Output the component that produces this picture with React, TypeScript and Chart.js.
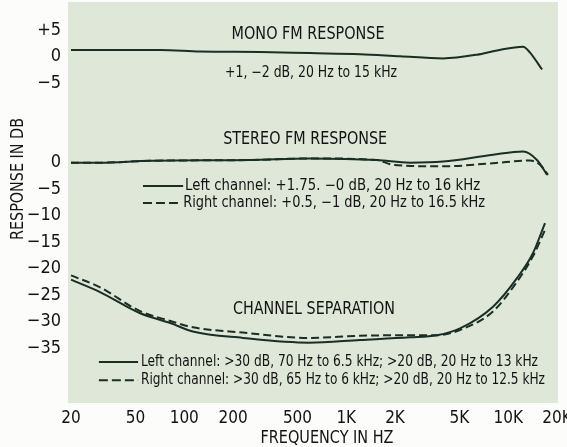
import React, { useEffect, useRef } from "react";
import { Chart, registerables } from "chart.js";

Chart.register(...registerables);

// ---------- data (frequency in Hz, level in dB) ----------
const MONO_FREQ = [20, 71, 125, 293, 598, 1216, 2146, 3957, 6418, 8525, 12340, 13620, 16170];
const MONO_DB = [1.3, 1.3, 1.0, 0.9, 0.7, 0.5, 0.1, -0.3, 0.4, 1.2, 1.9, 0.8, -2.4];

const STEREO_L_FREQ = [20, 30, 62, 254, 598, 1546, 2474, 3957, 8047, 12340, 15040, 17360];
const STEREO_L_DB = [0, 0, 0.35, 0.5, 0.8, 0.5, 0, 0.2, 1.5, 2.1, 0.5, -2.3];

const STEREO_R_FREQ = [20, 30, 62, 254, 598, 1546, 1943, 3957, 8047, 13620, 15710, 17590];
const STEREO_R_DB = [0, 0, 0.35, 0.5, 0.8, 0.5, -0.4, -0.7, -0.1, 0.4, -0.4, -2.3];

const SEP_L_FREQ = [20, 30, 53, 82, 113, 230, 590, 1216, 2474, 3633, 5039, 8047, 11320, 14200, 16860];
const SEP_L_DB = [-22.1, -24.4, -28.4, -30.3, -31.9, -33.1, -34.0, -33.5, -33.0, -32.6, -31.3, -27.2, -21.8, -17.1, -11.4];

const SEP_R_FREQ = [20, 30, 53, 82, 113, 230, 590, 1216, 2474, 3633, 5039, 8047, 11320, 14200, 16860];
const SEP_R_DB = [-21.3, -23.5, -28.0, -29.9, -31.1, -32.1, -33.1, -32.7, -32.6, -32.6, -31.6, -28.1, -22.5, -17.7, -12.7];

// mono section sits 20 dB above the stereo section on the shared axis
const MONO_OFFSET = 20;

const X_TICKS = [20, 50, 100, 200, 500, 1000, 2000, 5000, 10000, 20000];
const X_TICK_LABELS = ["20", "50", "100", "200", "500", "1K", "2K", "5K", "10K", "20K"];

const Y_TICKS = [25, 20, 15, 0, -5, -10, -15, -20, -25, -30, -35];
const Y_TICK_LABELS = ["+5", "0", "\u22125", "0", "\u22125", "\u221210", "\u221215", "\u221220", "\u221225", "\u221230", "\u221235"];

const X_TITLE = "FREQUENCY IN HZ";
const Y_TITLE = "RESPONSE IN DB";

// ---------- styling / layout ----------
const FONT = "'DejaVu Sans Condensed', 'Liberation Sans Narrow', 'DejaVu Sans', sans-serif";
const INK = "#131313";
const CURVE = "#1a2e24";
const PLOT_BG = "#dee7d8";
const PAGE_BG = "#fcfdfa";
const X_MIN = 19.16;
const X_MAX = 20280;
const Y_MIN = -45.4;
const Y_MAX = 30.35;

type Note = {
  text: string;
  fx: number;
  fy: number;
  size: number;
  width: number;
  align: CanvasTextAlign;
  sample?: "solid" | "dashed";
  sx0?: number;
  sx1?: number;
};

const NOTES: Note[] = [
  { text: "MONO FM RESPONSE", fx: 0.49, fy: 0.08, size: 17, width: 153, align: "center" },
  { text: "+1, \u22122 dB, 20 Hz to 15 kHz", fx: 0.496, fy: 0.177, size: 15, width: 172, align: "center" },
  { text: "STEREO FM RESPONSE", fx: 0.484, fy: 0.344, size: 17, width: 164, align: "center" },
  { text: "Left channel: +1.75. \u22120 dB, 20 Hz to 16 kHz", fx: 0.239, fy: 0.459, size: 15, width: 295, align: "left", sample: "solid", sx0: 0.153, sx1: 0.235 },
  { text: "Right channel: +0.5, \u22121 dB, 20 Hz to 16.5 kHz", fx: 0.235, fy: 0.501, size: 15, width: 302, align: "left", sample: "dashed", sx0: 0.153, sx1: 0.231 },
  { text: "CHANNEL SEPARATION", fx: 0.502, fy: 0.768, size: 17, width: 162, align: "center" },
  { text: "Left channel: >30 dB, 70 Hz to 6.5 kHz; >20 dB, 20 Hz to 13 kHz", fx: 0.149, fy: 0.898, size: 15, width: 397, align: "left", sample: "solid", sx0: 0.063, sx1: 0.143 },
  { text: "Right channel: >30 dB, 65 Hz to 6 kHz; >20 dB, 20 Hz to 12.5 kHz", fx: 0.149, fy: 0.943, size: 15, width: 404, align: "left", sample: "dashed", sx0: 0.063, sx1: 0.143 },
];

const zip = (xs: number[], ys: number[], off = 0) => xs.map((x, i) => ({ x, y: ys[i] + off }));

const decorPlugin = {
  id: "decor",
  beforeDraw(chart: any) {
    const { ctx, chartArea: a, width, height } = chart;
    ctx.save();
    ctx.fillStyle = PAGE_BG;
    ctx.fillRect(0, 0, width, height);
    ctx.fillStyle = PLOT_BG;
    ctx.fillRect(a.left, a.top, a.right - a.left, a.bottom - a.top);
    ctx.restore();
  },
  afterDraw(chart: any) {
    const { ctx, chartArea: a } = chart;
    const w = a.right - a.left;
    const h = a.bottom - a.top;
    ctx.save();
    ctx.fillStyle = INK;
    ctx.textBaseline = "middle";
    for (const n of NOTES) {
      const x = a.left + n.fx * w;
      const y = a.top + n.fy * h;
      ctx.font = `${n.size}px ${FONT}`;
      ctx.textAlign = n.align;
      ctx.fillText(n.text, x, y, n.width);
      if (n.sample) {
        ctx.strokeStyle = CURVE;
        ctx.lineWidth = 2;
        ctx.setLineDash(n.sample === "dashed" ? [9, 4] : []);
        ctx.beginPath();
        ctx.moveTo(a.left + (n.sx0 as number) * w, y);
        ctx.lineTo(a.left + (n.sx1 as number) * w, y);
        ctx.stroke();
        ctx.setLineDash([]);
      }
    }
    // axis titles
    ctx.font = `18px ${FONT}`;
    ctx.textAlign = "center";
    ctx.fillText(X_TITLE, 327, 438, 133);
    ctx.translate(18, 179);
    ctx.rotate(-Math.PI / 2);
    ctx.fillText(Y_TITLE, 0, 0, 122);
    ctx.restore();
  },
};

export default function App() {
  const ref = useRef<HTMLCanvasElement | null>(null);

  useEffect(() => {
    if (!ref.current) return;
    const line = (data: any[], dashed: boolean) => ({
      data,
      borderColor: CURVE,
      borderWidth: 2,
      borderDash: dashed ? [8, 4] : [],
      pointRadius: 0,
      fill: false,
      cubicInterpolationMode: "monotone" as const,
    });
    const chart = new Chart(ref.current, {
      type: "line",
      data: {
        datasets: [
          line(zip(MONO_FREQ, MONO_DB, MONO_OFFSET), false),
          line(zip(STEREO_L_FREQ, STEREO_L_DB), false),
          line(zip(STEREO_R_FREQ, STEREO_R_DB), true),
          line(zip(SEP_L_FREQ, SEP_L_DB), false),
          line(zip(SEP_R_FREQ, SEP_R_DB), true),
        ],
      },
      options: {
        animation: false,
        responsive: false,
        devicePixelRatio: 1,
        layout: { padding: { top: 2, right: 9, left: 0, bottom: 0 } },
        plugins: {
          legend: { display: false },
          tooltip: { enabled: false },
          title: { display: false },
        },
        scales: {
          x: {
            type: "logarithmic",
            min: X_MIN,
            max: X_MAX,
            grid: { display: false, drawTicks: false },
            border: { display: false },
            afterBuildTicks: (s: any) => {
              s.ticks = X_TICKS.map((value) => ({ value }));
            },
            afterFit: (s: any) => {
              s.height = 44;
              s.paddingLeft = 0;
              s.paddingRight = 0;
            },
            ticks: {
              autoSkip: false,
              maxRotation: 0,
              minRotation: 0,
              padding: 5,
              color: INK,
              font: { family: FONT, size: 17 },
              callback: (_v: any, i: number) => X_TICK_LABELS[i],
            },
          },
          y: {
            type: "linear",
            min: Y_MIN,
            max: Y_MAX,
            grid: { display: false, drawTicks: false },
            border: { display: false },
            afterBuildTicks: (s: any) => {
              s.ticks = Y_TICKS.map((value) => ({ value }));
            },
            afterFit: (s: any) => {
              s.width = 68;
              s.paddingTop = 0;
              s.paddingBottom = 0;
            },
            ticks: {
              autoSkip: false,
              padding: 7,
              color: INK,
              font: { family: FONT, size: 18 },
              callback: (_v: any, i: number) => Y_TICK_LABELS[i],
            },
          },
        },
      },
      plugins: [decorPlugin],
    });
    return () => chart.destroy();
  }, []);

  return (
    <canvas
      ref={ref}
      width={567}
      height={447}
      style={{ position: "absolute", left: 0, top: 0, width: 567, height: 447 }}
    />
  );
}
